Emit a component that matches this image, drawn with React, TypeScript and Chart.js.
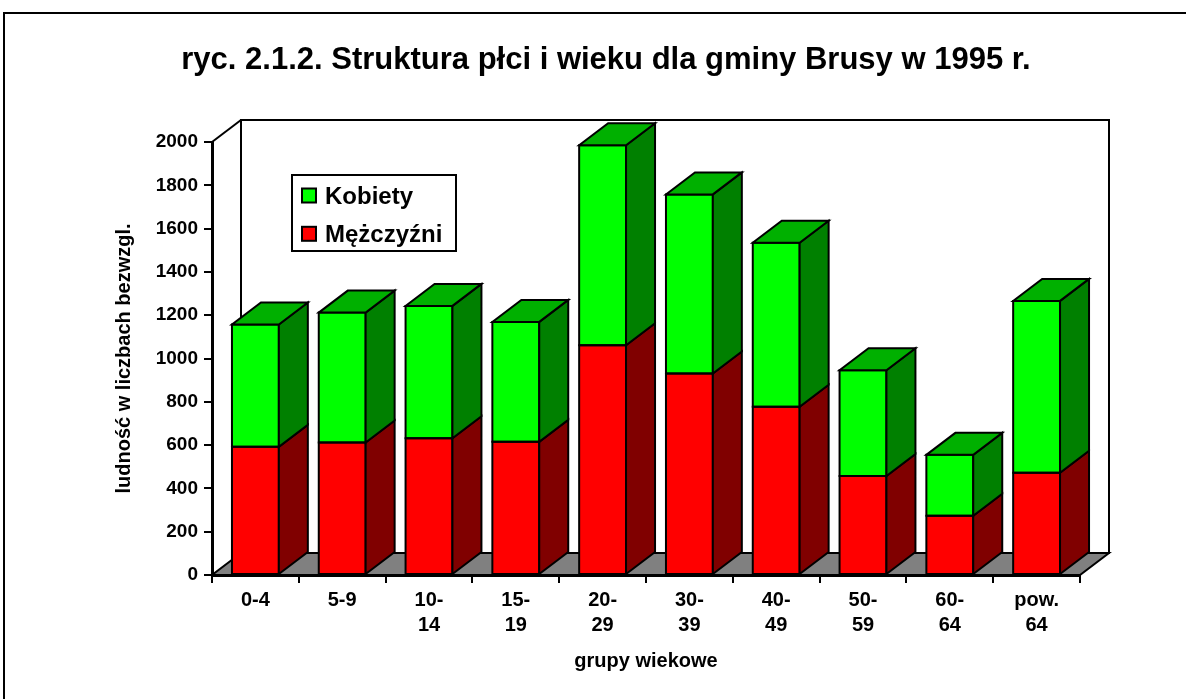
import React, { useEffect, useRef } from 'react';
import { Chart, registerables } from 'chart.js';

Chart.register(...registerables);

// ---- data ----
const categories: string[][] = [
  ['0-4'], ['5-9'], ['10-', '14'], ['15-', '19'], ['20-', '29'],
  ['30-', '39'], ['40-', '49'], ['50-', '59'], ['60-', '64'], ['pow.', '64'],
];
const men = [592, 612, 632, 615, 1061, 931, 777, 457, 274, 472];
const women = [565, 600, 611, 554, 924, 827, 758, 489, 281, 794];
const seriesNames = ['Mężczyźni', 'Kobiety'];
const yMin = 0;
const yMax = 2000;
const yStep = 200;
const titleText = 'ryc. 2.1.2. Struktura płci i wieku dla gminy Brusy w 1995 r.';
const yTitle = 'ludność w liczbach bezwzgl.';
const xTitle = 'grupy wiekowe';

// ---- style ----
const FONT = '"Liberation Sans", Arial, Helvetica, sans-serif';
const DX = 29;
const DY = -22;

function poly(ctx: CanvasRenderingContext2D, pts: number[][], fill: string) {
  ctx.beginPath();
  ctx.moveTo(pts[0][0], pts[0][1]);
  for (let i = 1; i < pts.length; i++) ctx.lineTo(pts[i][0], pts[i][1]);
  ctx.closePath();
  ctx.fillStyle = fill;
  ctx.fill();
  ctx.stroke();
}

const threeD = {
  id: 'threeD',
  beforeDraw(chart: any) {
    const ctx: CanvasRenderingContext2D = chart.ctx;
    ctx.save();
    ctx.fillStyle = '#fff';
    ctx.fillRect(0, 0, chart.width, chart.height);
    ctx.strokeStyle = '#000';
    ctx.lineWidth = 2;
    ctx.strokeRect(4, 13, chart.width + 20, chart.height + 20);
    ctx.fillStyle = '#000';
    ctx.font = `bold 31px ${FONT}`;
    ctx.textAlign = 'center';
    ctx.textBaseline = 'alphabetic';
    ctx.fillText(titleText, 606, 69);
    ctx.restore();
  },
  beforeDatasetsDraw(chart: any) {
    const ctx: CanvasRenderingContext2D = chart.ctx;
    const { left, right, top, bottom } = chart.chartArea;
    ctx.save();
    ctx.strokeStyle = '#000';
    ctx.lineWidth = 2;
    ctx.lineJoin = 'miter';
    poly(ctx, [[left + DX, top + DY], [right + DX, top + DY], [right + DX, bottom + DY], [left + DX, bottom + DY]], '#fff');
    ctx.beginPath();
    ctx.moveTo(left, top);
    ctx.lineTo(left + DX, top + DY);
    ctx.stroke();
    poly(ctx, [[left, bottom], [right, bottom], [right + DX, bottom + DY], [left + DX, bottom + DY]], '#808080');
    ctx.restore();
  },
  afterDatasetsDraw(chart: any) {
    const ctx: CanvasRenderingContext2D = chart.ctx;
    const dsCount = chart.data.datasets.length;
    ctx.save();
    ctx.strokeStyle = '#000';
    ctx.lineWidth = 2;
    ctx.lineJoin = 'miter';
    for (let d = 0; d < dsCount; d++) {
      const meta = chart.getDatasetMeta(d);
      const ds = chart.data.datasets[d];
      meta.data.forEach((bar: any) => {
        const { x, y, base, width } = bar.getProps(['x', 'y', 'base', 'width'], true);
        const l = x - width / 2;
        const r = x + width / 2;
        const t = Math.min(y, base);
        const b = Math.max(y, base);
        // front face outline
        ctx.beginPath();
        ctx.rect(l, t, r - l, b - t);
        ctx.stroke();
        poly(ctx, [[r, b], [r, t], [r + DX, t + DY], [r + DX, b + DY]], ds.sideColor);
        if (d === dsCount - 1) {
          poly(ctx, [[l, t], [r, t], [r + DX, t + DY], [l + DX, t + DY]], ds.topColor);
        }
      });
    }
    ctx.restore();
  },
  afterDraw(chart: any) {
    const ctx: CanvasRenderingContext2D = chart.ctx;
    ctx.save();
    ctx.strokeStyle = '#000';
    ctx.lineWidth = 2;
    ctx.fillStyle = '#fff';
    ctx.fillRect(292, 175, 164, 76);
    ctx.strokeRect(292, 175, 164, 76);
    const items = [...chart.data.datasets].reverse();
    ctx.font = `bold 24px ${FONT}`;
    ctx.textAlign = 'left';
    ctx.textBaseline = 'alphabetic';
    items.forEach((ds: any, i: number) => {
      const yb = 203.5 + i * 38.3;
      ctx.fillStyle = ds.backgroundColor;
      ctx.fillRect(302, yb - 15, 14, 14);
      ctx.strokeRect(302, yb - 15, 14, 14);
      ctx.fillStyle = '#000';
      ctx.fillText(ds.label, 325, yb);
    });
    ctx.restore();
  },
};

export default function App() {
  const ref = useRef<HTMLCanvasElement>(null);
  useEffect(() => {
    if (!ref.current) return;
    const chart = new Chart(ref.current, {
      type: 'bar',
      data: {
        labels: categories,
        datasets: [
          {
            label: seriesNames[0],
            data: men,
            backgroundColor: '#ff0000',
            borderWidth: 0,
            sideColor: '#800000',
            topColor: '#c00000',
          } as any,
          {
            label: seriesNames[1],
            data: women,
            backgroundColor: '#00ff00',
            borderWidth: 0,
            sideColor: '#008000',
            topColor: '#00b000',
          } as any,
        ],
      },
      options: {
        responsive: false,
        animation: false,
        devicePixelRatio: 1,
        layout: { padding: { left: 100, top: 142, right: 106, bottom: 0 } },
        datasets: { bar: { categoryPercentage: 1, barPercentage: 0.54 } },
        plugins: { legend: { display: false }, tooltip: { enabled: false }, title: { display: false } },
        scales: {
          x: {
            stacked: true,
            afterFit: (s: any) => { s.height = 124; },
            grid: { display: true, drawOnChartArea: false, drawTicks: true, tickLength: 8, offset: true, color: '#000', lineWidth: 2 },
            border: { display: true, color: '#000', width: 3 },
            ticks: { color: '#000', padding: 5, maxRotation: 0, autoSkip: false, font: { family: FONT, size: 20, weight: 'bold', lineHeight: 1.25 } },
            title: { display: true, text: xTitle, color: '#000', padding: { top: 0, bottom: 26 }, font: { family: FONT, size: 20, weight: 'bold' } },
          },
          y: {
            stacked: true,
            min: yMin,
            max: yMax,
            afterFit: (s: any) => { s.width = 112; },
            grid: { display: true, drawOnChartArea: false, drawTicks: true, tickLength: 8, color: '#000', lineWidth: 2 },
            border: { display: true, color: '#000', width: 3 },
            ticks: { stepSize: yStep, color: '#000', padding: 6, callback: (v: any) => String(v), font: { family: FONT, size: 19, weight: 'bold' } },
            title: { display: true, text: yTitle, color: '#000', padding: { top: 12, bottom: 0 }, font: { family: FONT, size: 20, weight: 'bold' } },
          },
        },
      } as any,
      plugins: [threeD as any],
    });
    return () => chart.destroy();
  }, []);
  return (
    <canvas
      ref={ref}
      width={1186}
      height={699}
      style={{ position: 'fixed', left: 0, top: 0, width: '1186px', height: '699px' }}
    />
  );
}
